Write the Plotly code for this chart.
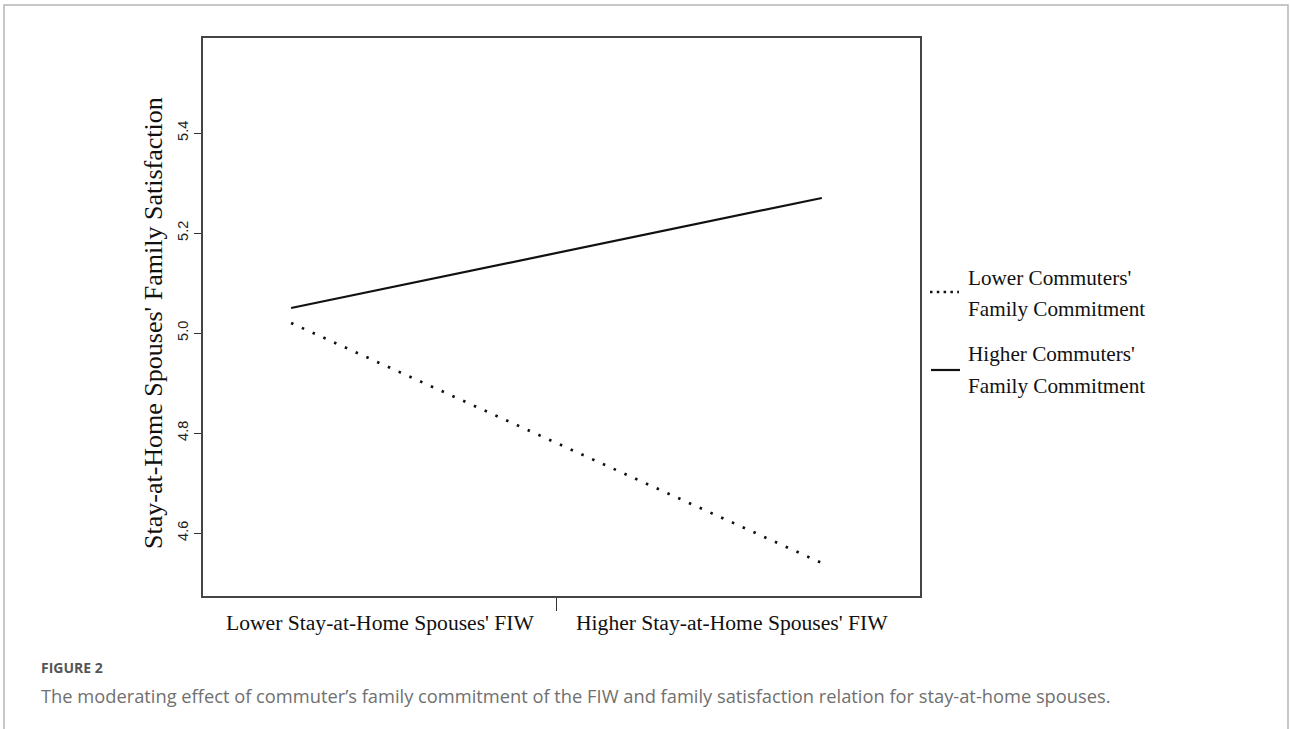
import plotly.graph_objects as go

# Simple-slopes data: family satisfaction at low / high FIW
fiw_levels = [1, 2]
lower_commitment = [5.02, 4.54]
higher_commitment = [5.05, 5.27]

x_labels = ["Lower Stay-at-Home Spouses' FIW", "Higher Stay-at-Home Spouses' FIW"]
x_label_pos = [1.168, 1.83]
y_ticks = [4.6, 4.8, 5.0, 5.2, 5.4]
legend_lines = [["Lower Commuters'", "Family Commitment"],
                ["Higher Commuters'", "Family Commitment"]]

W, H = 1290, 729
L, R, T, B = 203, 920, 38, 596  # plot area in pixels


def px(x):
    return (x - L) / (R - L)


def py(y):
    return (B - y) / (B - T)


SERIF = "Liberation Serif, Times New Roman, serif"
SANS = "Liberation Sans, Arial, sans-serif"

fig = go.Figure()
fig.add_trace(go.Scatter(x=fiw_levels, y=lower_commitment, mode="lines",
                         line=dict(color="#111", width=2.7, dash="2.5px,9.3px"),
                         showlegend=False, hoverinfo="skip"))
fig.add_trace(go.Scatter(x=fiw_levels, y=higher_commitment, mode="lines",
                         line=dict(color="#111", width=2.2),
                         showlegend=False, hoverinfo="skip"))

fig.update_xaxes(range=[0.834, 2.185], tickvals=[1.5], ticktext=[""],
                 ticks="outside", ticklen=13, tickcolor="#333", tickwidth=1,
                 showline=True, linecolor="#444", linewidth=1.5, mirror=True,
                 showgrid=False, zeroline=False)
fig.update_yaxes(range=[4.474, 5.59], tickvals=y_ticks,
                 ticktext=[f"{v:.1f}" for v in y_ticks], tickangle=-90,
                 ticks="outside", ticklen=7, tickcolor="#333", tickwidth=1,
                 tickfont=dict(family=SANS, size=14.5, color="#222"),
                 showline=True, linecolor="#444", linewidth=1.5, mirror=True,
                 showgrid=False, zeroline=False)

ann = []
# y-axis title
ann.append(dict(text="Stay-at-Home Spouses' Family Satisfaction", textangle=-90,
                xref="paper", yref="paper", x=px(153), y=py(323),
                xanchor="center", yanchor="middle", showarrow=False,
                font=dict(family=SERIF, size=26, color="#111")))
# category labels under the x axis
for xl, xp in zip(x_labels, x_label_pos):
    ann.append(dict(text=xl, xref="x", yref="paper", x=xp, y=py(623),
                    xanchor="center", yanchor="middle", showarrow=False,
                    font=dict(family=SERIF, size=21.6, color="#111")))
# legend text
legend_y = [(278, 309), (354, 386)]
for lines, ys in zip(legend_lines, legend_y):
    for t, yy in zip(lines, ys):
        ann.append(dict(text=t, xref="paper", yref="paper", x=px(966), y=py(yy),
                        xanchor="left", yanchor="middle", showarrow=False,
                        font=dict(family=SERIF, size=21.2, color="#111")))
# figure caption
ann.append(dict(text="<b>FIGURE 2</b>", xref="paper", yref="paper",
                x=px(39), y=py(668), xanchor="left", yanchor="middle",
                showarrow=False, font=dict(family="Open Sans", size=14, color="#555")))
ann.append(dict(text="The moderating effect of commuter\u2019s family commitment of the FIW "
                     "and family satisfaction relation for stay-at-home spouses.",
                xref="paper", yref="paper", x=px(39), y=py(695),
                xanchor="left", yanchor="middle", showarrow=False,
                font=dict(family="Open Sans", size=18.3, color="#707070")))

shapes = [
    # legend samples
    dict(type="line", xref="paper", yref="paper", x0=px(930), x1=px(959),
         y0=py(292), y1=py(292), line=dict(color="#111", width=2.7, dash="2.5px,4.3px")),
    dict(type="line", xref="paper", yref="paper", x0=px(931), x1=px(960),
         y0=py(370), y1=py(370), line=dict(color="#111", width=2.2)),
    # outer panel frame
    dict(type="path", xref="paper", yref="paper",
         path=f"M {px(4)},{py(740)} L {px(4)},{py(5)} L {px(1288)},{py(5)} L {px(1288)},{py(740)}",
         line=dict(color="#b5b5b5", width=1.5)),
]

fig.update_layout(width=W, height=H, margin=dict(l=L, r=W - R, t=T, b=H - B),
                  paper_bgcolor="white", plot_bgcolor="white",
                  annotations=ann, shapes=shapes, showlegend=False)

fig.write_html("out.html")
